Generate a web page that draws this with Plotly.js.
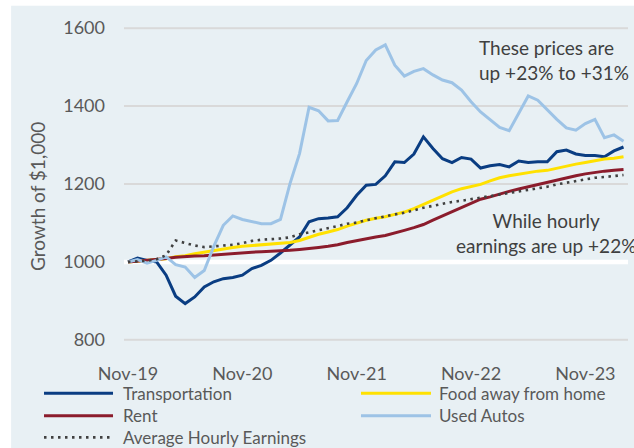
<!DOCTYPE html>
<html>
<head>
<meta charset="utf-8">
<script src="https://cdn.plot.ly/plotly-3.0.1.min.js"></script>
<style>html,body{margin:0;padding:0;background:#fff;}#chart{width:634px;height:448px;}</style>
</head>
<body>
<div id="chart"></div>
<script>
const months = ["Nov-19","Dec-19","Jan-20","Feb-20","Mar-20","Apr-20","May-20","Jun-20","Jul-20","Aug-20","Sep-20","Oct-20",
  "Nov-20","Dec-20","Jan-21","Feb-21","Mar-21","Apr-21","May-21","Jun-21","Jul-21","Aug-21","Sep-21","Oct-21",
  "Nov-21","Dec-21","Jan-22","Feb-22","Mar-22","Apr-22","May-22","Jun-22","Jul-22","Aug-22","Sep-22","Oct-22",
  "Nov-22","Dec-22","Jan-23","Feb-23","Mar-23","Apr-23","May-23","Jun-23","Jul-23","Aug-23","Sep-23","Oct-23",
  "Nov-23","Dec-23","Jan-24","Feb-24","Mar-24"];
const xTickLabels = ["Nov-19","Nov-20","Nov-21","Nov-22","Nov-23"];
const yTickValues = [800,1000,1200,1400,1600];

const transportation = [1000,1010,1004,1000,966,912,893,910,936,949,957,960,966,983,991,1004,1023,1043,1064,1103,1111,1113,1116,1139,1171,1197,1199,
  1221,1257,1255,1277,1321,1291,1265,1255,1268,1264,1241,1247,1250,1244,1259,1255,1257,1257,1283,1287,1277,1273,1273,1270,1285,1295];
const foodAway = [1000,1002,1003,1005,1008,1013,1016,1021,1025,1029,1034,1037,1040,1042,1044,1046,1048,1050,1055,1063,1071,1077,1083,1092,1100,1107,1112,
  1116,1122,1128,1137,1148,1158,1169,1180,1188,1193,1199,1208,1216,1221,1225,1229,1233,1235,1241,1246,1251,1255,1259,1264,1266,1270];
const rent = [1000,1002,1004,1007,1009,1012,1014,1015,1016,1018,1020,1021,1023,1025,1026,1027,1028,1030,1032,1034,1037,1040,1044,1050,1055,1060,1064,
  1068,1074,1081,1088,1096,1107,1118,1130,1141,1152,1161,1167,1175,1181,1187,1193,1199,1204,1210,1216,1221,1226,1230,1233,1235,1237];
const usedAutos = [1000,1006,997,1004,1013,993,987,960,978,1040,1094,1118,1109,1104,1098,1098,1109,1201,1278,1397,1388,1362,1363,1411,1458,1517,1544,
  1557,1505,1477,1489,1496,1480,1467,1460,1441,1411,1385,1366,1345,1337,1381,1426,1415,1390,1366,1344,1338,1355,1366,1319,1326,1310];
const hourlyEarnings = [1000,1002,1003,1007,1017,1055,1049,1042,1038,1040,1041,1044,1048,1054,1057,1058,1060,1063,1071,1076,1081,1086,1092,1098,1101,1107,1112,
  1118,1122,1126,1133,1139,1144,1149,1154,1157,1161,1165,1169,1173,1177,1181,1185,1188,1193,1199,1203,1208,1212,1216,1218,1221,1223];

const series = [
  {name:"Transportation", y:transportation, color:"#0A3D82", dash:"solid", width:3},
  {name:"Food away from home", y:foodAway, color:"#FFE100", dash:"solid", width:3},
  {name:"Rent", y:rent, color:"#8B1C2C", dash:"solid", width:3},
  {name:"Used Autos", y:usedAutos, color:"#9DC3E6", dash:"solid", width:3},
  {name:"Average Hourly Earnings", y:hourlyEarnings, color:"#404040", dash:"2.5px,4.5px", width:2.6}
];

const traces = series.map(s => ({
  type:"scatter", mode:"lines", x:months, y:s.y, name:s.name,
  line:{color:s.color, width:s.width, dash:s.dash}, showlegend:false, hoverinfo:"skip"
}));

const FONT = "Lato, 'Open Sans', sans-serif";
const shapes = [
  {type:"rect", xref:"paper", yref:"paper", x0:-0.224, x1:1.02, y0:1.068, y1:-0.36, fillcolor:"#E8F0F4", line:{width:0}, layer:"below"}
];
yTickValues.forEach(v => {
  shapes.push({type:"line", xref:"paper", yref:"y", x0:0, x1:1, y0:v, y1:v, layer:"below",
    line:{color: v===1000 ? "#FFFFFF" : "#D9D9D9", width: v===1000 ? 4.5 : 2}});
});

// legend: two columns, built from the series list
const legendPos = [
  {sx0:-0.1587, sx1:-0.0218, tx:-0.0069, y:-0.1667},
  {sx0:0.4702, sx1:0.6091, tx:0.6204, y:-0.1667},
  {sx0:-0.1587, sx1:-0.0218, tx:-0.0069, y:-0.2381},
  {sx0:0.4702, sx1:0.6091, tx:0.6204, y:-0.2381},
  {sx0:-0.1587, sx1:-0.0218, tx:-0.0069, y:-0.3070}
];
const annotations = [];
series.forEach((s,i) => {
  const p = legendPos[i];
  shapes.push({type:"line", xref:"paper", yref:"paper", x0:p.sx0, x1:p.sx1, y0:p.y, y1:p.y,
    line:{color:s.color, width:s.width, dash:s.dash}});
  annotations.push({xref:"paper", yref:"paper", x:p.tx, y:p.y, xanchor:"left", yanchor:"middle",
    text:s.name, showarrow:false, font:{family:FONT, size:17, color:"#595959"}});
});

annotations.push({xref:"paper", yref:"paper", x:0.7004, y:0.8952, xanchor:"left", yanchor:"middle", align:"left",
  text:"These prices are<br>up +23% to +31%", showarrow:false, font:{family:FONT, size:19, color:"#404040"}});
annotations.push({xref:"paper", yref:"paper", x:0.837, y:0.3444, xanchor:"center", yanchor:"middle", align:"center",
  text:"While hourly<br>earnings are up +22%", showarrow:false, font:{family:FONT, size:19, color:"#404040"}});
annotations.push({xref:"paper", yref:"paper", x:-0.1706, y:0.4587, xanchor:"center", yanchor:"middle", textangle:-90,
  text:"Growth of $1,000", showarrow:false, font:{family:FONT, size:19, color:"#595959"}});

const layout = {
  width:634, height:448,
  margin:{l:124, r:6, t:26.5, b:106.5},
  paper_bgcolor:"#FFFFFF", plot_bgcolor:"rgba(0,0,0,0)",
  showlegend:false,
  xaxis:{type:"category", range:[-0.42, 52.47], tickvals:xTickLabels, ticktext:xTickLabels,
    showgrid:false, zeroline:false, showline:false, ticks:"", ticklabelstandoff:20,
    tickfont:{family:FONT, size:18, color:"#595959"}, fixedrange:true},
  yaxis:{range:[797,1603], tickvals:yTickValues, showgrid:false, zeroline:false, showline:false, ticks:"",
    ticklabelstandoff:18, tickfont:{family:FONT, size:18, color:"#595959"}, fixedrange:true},
  shapes:shapes,
  annotations:annotations
};

Plotly.newPlot("chart", traces, layout, {staticPlot:true, displayModeBar:false});
</script>
</body>
</html>
